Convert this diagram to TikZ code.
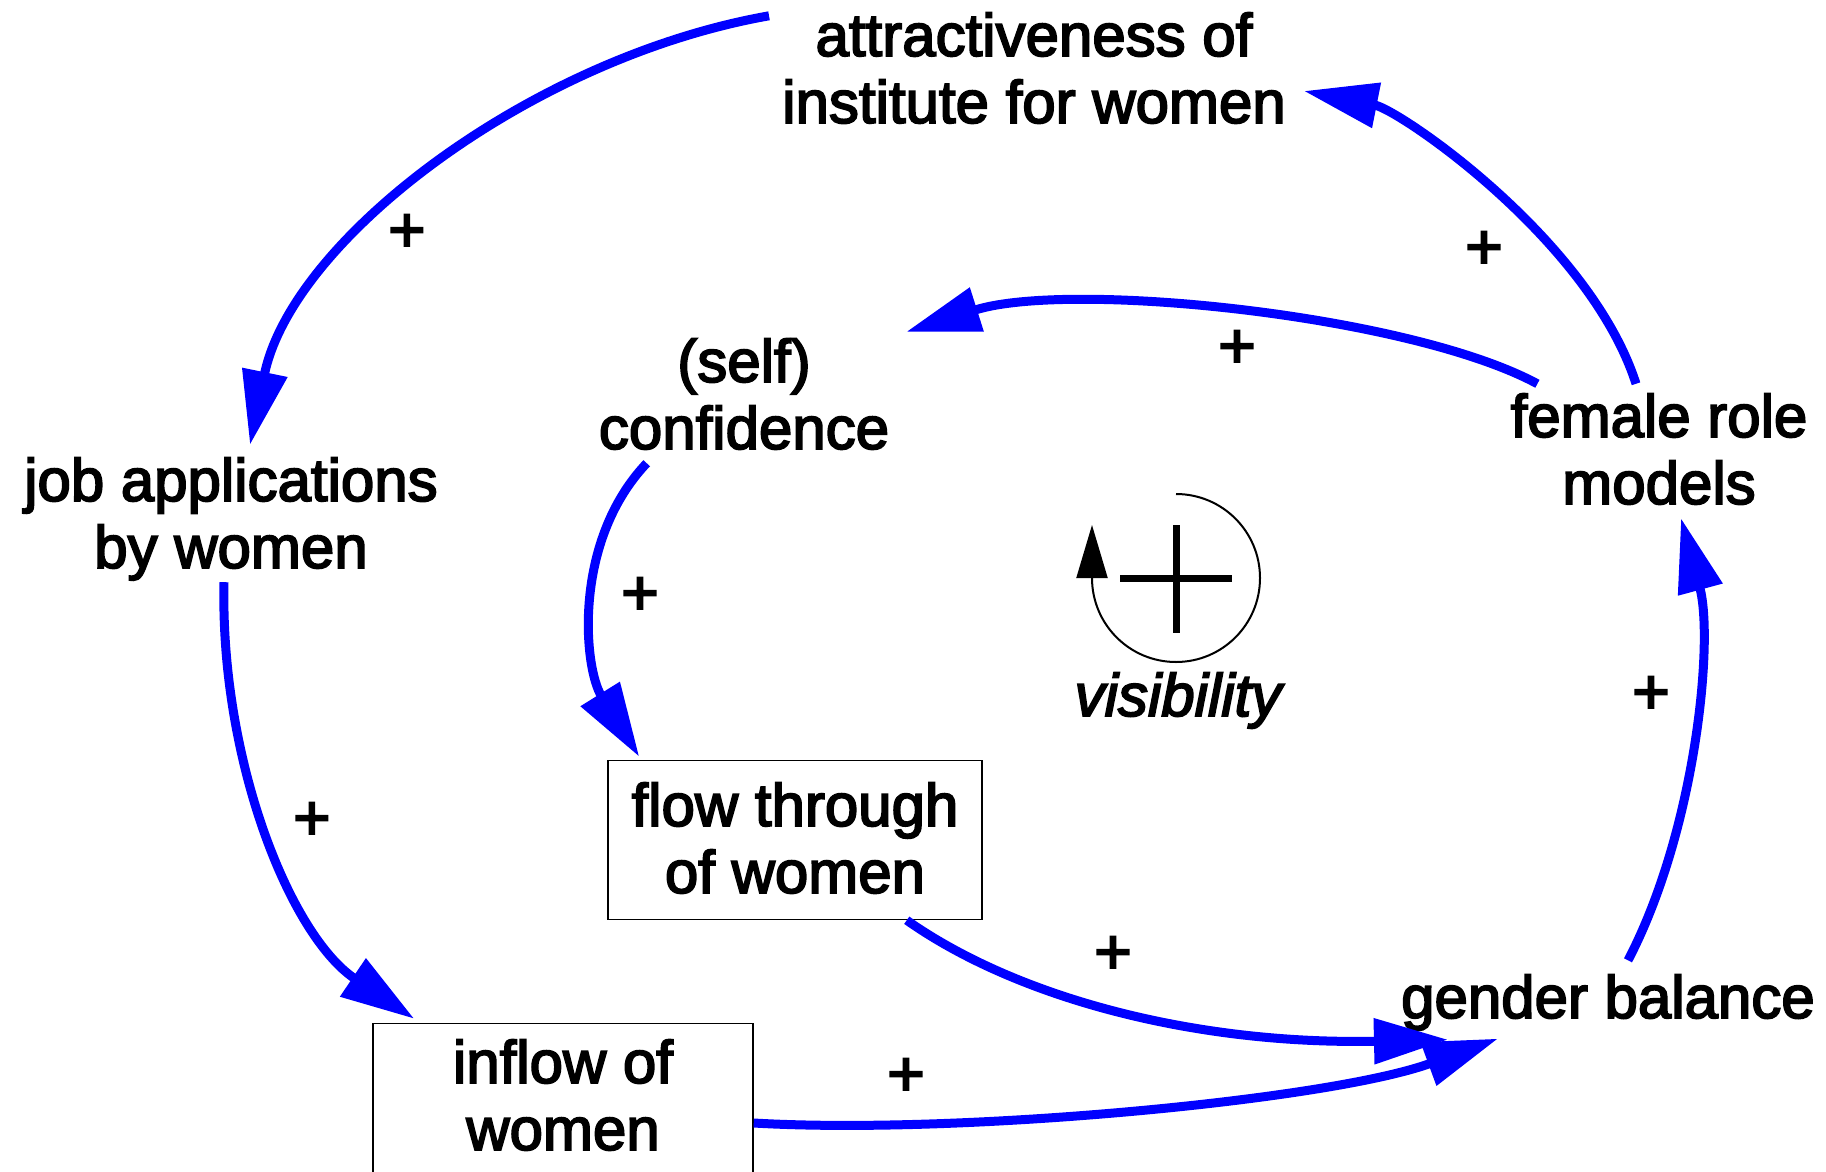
\documentclass[tikz,border=0pt]{standalone}
\usepackage{fontspec}
\newfontfamily\lblfont{Liberation Sans}[FakeBold=3]
\usetikzlibrary{arrows.meta,calc}
\newcommand\twolines[2]{\begin{tabular}{@{}c@{}}#1\\#2\end{tabular}}
\begin{document}
\begin{tikzpicture}[x=1pt,y=-1pt,
  lbl/.style={font=\lblfont\fontsize{60}{67}\selectfont, inner sep=0pt},
  pl/.style={font=\lblfont\fontsize{64}{70}\selectfont, inner sep=0pt},
  conn/.style={draw=blue, line width=9pt, -{Triangle[length=74pt,width=44pt]}},
  stockbox/.style={lbl, draw=black, line width=1.5pt, minimum height=159pt}
]
\useasboundingbox (0,0) rectangle (1826,1172);
\clip (0,0) rectangle (1826,1172);
\fill[white] (0,0) rectangle (1826,1172);

% variables
\node[lbl] (attr) at (1034,76) {\twolines{attractiveness of}{institute for women}};
\node[lbl] (job) at (231,521) {\twolines{job applications}{by women}};
\node[lbl] (conf) at (744,402) {\twolines{(self)}{confidence}};
\node[lbl] (female) at (1659,457) {\twolines{female role}{models}};
\node[lbl, anchor=base] (gender) at (1608,1018) {gender balance};
\node[stockbox, minimum width=374pt] (flow) at (795,840) {\twolines{\rule{0pt}{58.9pt}flow through}{of women}};
\node[stockbox, minimum width=380pt] (inflow) at (563,1103) {\twolines{inflow of}{women}};

% connectors
\draw[conn] ($(attr.north west)+(-13,7)$) .. controls (530,58) and (292,240) .. ($(job.north)+(19,-9)$);
\draw[conn] ($(female.north)+(-23,-6)$) .. controls (1590,240) and (1400,110) .. ($(attr.east)+(18,15)$);
\draw[conn] ($(female.north west)+(27,-6)$) .. controls (1410,315) and (1070,280) .. ($(conf.north east)+(17,-3)$);
\draw[conn] ($(conf.south west)+(48,-6)$) .. controls (572,542) and (584,668) .. ($(flow.north west)+(32,-3)$);
\draw[conn] ($(job.south)+(-7,-6)$) .. controls (220,760) and (290,935) .. ($(inflow.north west)+(42,-4)$);
\draw[conn] ($(flow.south east)+(-76,0)$) .. controls (1020,1000) and (1200,1045) .. ($(gender.south west)+(47,9)$);
\draw[conn] ($(inflow.east)+(0,20)$) .. controls (960,1135) and (1330,1100) .. ($(gender.south west)+(97,8)$);
\draw[conn] ($(gender.north)+(20,-14)$) .. controls (1696,830) and (1714,640) .. ($(female.south)+(22,-6)$);

% polarities
\node[pl] (p1) at (407,233) {+};
\node[pl] (p2) at (1484,250) {+};
\node[pl] (p3) at (1237,349) {+};
\node[pl] (p4) at (640,596) {+};
\node[pl] (p5) at (312,821) {+};
\node[pl] (p6) at (1651,695) {+};
\node[pl] (p7) at (1113,955) {+};
\node[pl] (p8) at (906,1077) {+};

% loop marker
\coordinate (loopc) at (1176,578);
\draw[line width=2pt, -{Triangle[length=53pt,width=31pt]}] ($(loopc)+(0,-84)$) arc[start angle=-90, end angle=180, radius=84] -- ++(0,-53);
\draw[line width=7pt] ($(loopc)+(-56,0)$) -- ($(loopc)+(56,0)$);
\draw[line width=7pt] ($(loopc)+(0,-53)$) -- ($(loopc)+(0,55)$);
\node[lbl, anchor=base, font=\lblfont\itshape\fontsize{60}{67}\selectfont] (vis) at (1178,716) {visibility};
\end{tikzpicture}
\end{document}
